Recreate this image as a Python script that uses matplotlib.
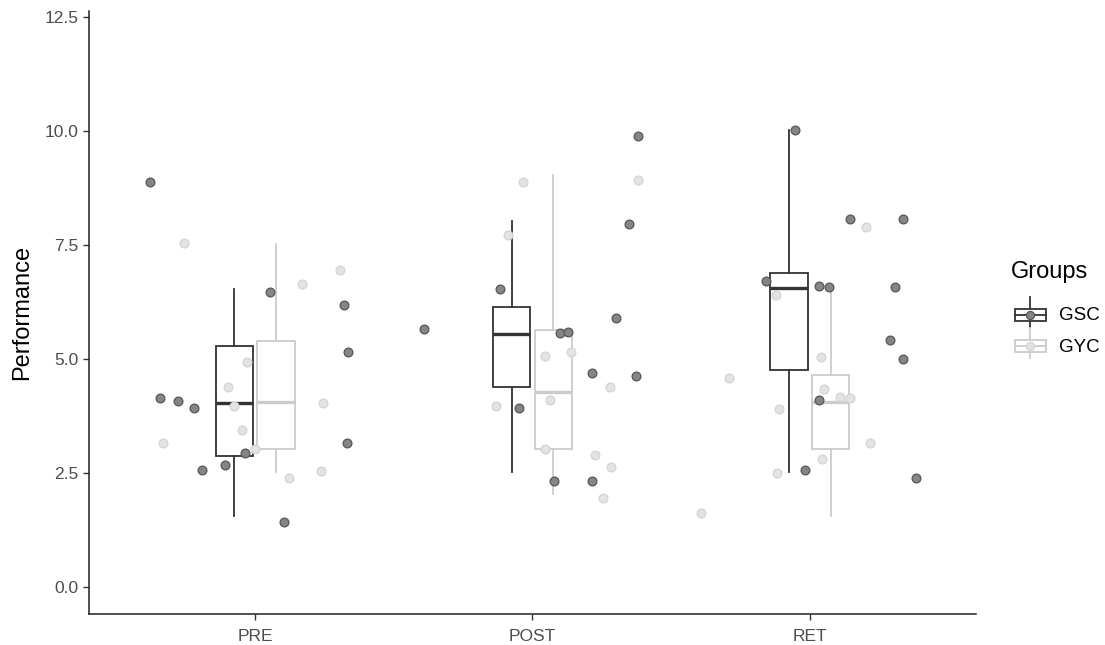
import numpy as np
import matplotlib
matplotlib.use("Agg")
import matplotlib.pyplot as plt
from matplotlib.patches import Rectangle
from matplotlib.lines import Line2D

plt.rcParams['font.family'] = ['Liberation Sans', 'DejaVu Sans']

phases = ['PRE', 'POST', 'RET']
groups = ['GSC', 'GYC']

# box summaries per phase: (lower whisker, Q1, median, Q3, upper whisker)
gsc_box = [(1.55, 2.88, 4.04, 5.29, 6.54),
           (2.53, 4.38, 5.54, 6.15, 8.03),
           (2.53, 4.76, 6.55, 6.88, 10.01)]
gyc_box = [(2.53, 3.03, 4.05, 5.39, 7.52),
           (2.04, 3.02, 4.28, 5.63, 9.04),
           (1.56, 3.02, 4.05, 4.66, 6.57)]

# individual scores (jittered) per phase
gsc_pre = [8.87, 4.14, 4.07, 3.93, 2.57, 2.68, 2.95, 6.46, 1.43, 6.18, 5.15, 3.16]
gsc_pre_jit = [-0.379, -0.344, -0.279, -0.221, -0.192, -0.111, -0.036, 0.052, 0.104, 0.319, 0.336, 0.331]
gsc_post = [9.90, 7.96, 6.54, 5.66, 5.91, 5.56, 5.59, 4.69, 4.62, 3.93, 2.33, 2.33]
gsc_post_jit = [0.382, 0.349, -0.117, -0.391, 0.302, 0.098, 0.129, 0.214, 0.372, -0.047, 0.079, 0.214]
gsc_ret = [10.01, 8.06, 8.06, 6.70, 6.61, 6.57, 6.57, 5.42, 5.01, 4.10, 2.57, 2.40]
gsc_ret_jit = [-0.053, 0.144, 0.337, -0.157, 0.034, 0.070, 0.308, 0.289, 0.337, 0.034, -0.018, 0.382]

gyc_pre = [7.54, 3.16, 4.93, 4.38, 3.98, 3.44, 3.03, 6.64, 6.95, 4.03, 2.54, 2.40]
gyc_pre_jit = [-0.257, -0.332, -0.030, -0.100, -0.076, -0.047, 0.0, 0.167, 0.307, 0.243, 0.237, 0.122]
gyc_post = [8.87, 8.93, 7.72, 5.07, 5.15, 4.39, 4.10, 3.97, 3.03, 2.89, 2.64, 1.95]
gyc_post_jit = [-0.035, 0.382, -0.088, 0.046, 0.138, 0.278, 0.064, -0.133, 0.046, 0.227, 0.284, 0.255]
gyc_ret = [7.89, 6.40, 5.04, 4.59, 4.35, 4.17, 4.14, 3.90, 3.16, 2.81, 2.51, 1.63]
gyc_ret_jit = [0.203, -0.123, 0.040, -0.291, 0.051, 0.111, 0.146, -0.110, 0.219, 0.046, -0.118, -0.391]

gsc_pts = [(gsc_pre, gsc_pre_jit), (gsc_post, gsc_post_jit), (gsc_ret, gsc_ret_jit)]
gyc_pts = [(gyc_pre, gyc_pre_jit), (gyc_post, gyc_post_jit), (gyc_ret, gyc_ret_jit)]

line_col = {'GSC': '#333333', 'GYC': '#cccccc'}
pt_face = {'GSC': '#858585', 'GYC': '#e3e3e3'}
pt_edge = {'GSC': '#575757', 'GYC': '#d4d4d4'}
dodge = {'GSC': -0.075, 'GYC': 0.075}

fig = plt.figure(figsize=(11.05, 6.45), dpi=100)
ax = fig.add_axes([0.0805, 0.048, 0.8028, 0.935])

x = np.arange(1, len(phases) + 1)

for g, boxes in zip(groups, [gsc_box, gyc_box]):
    stats = [dict(whislo=b[0], q1=b[1], med=b[2], q3=b[3], whishi=b[4], fliers=[])
             for b in boxes]
    ax.bxp(stats, positions=x + dodge[g], widths=0.135, showcaps=False,
           showfliers=False, patch_artist=True, manage_ticks=False,
           boxprops=dict(facecolor='white', edgecolor=line_col[g], linewidth=1.3),
           whiskerprops=dict(color=line_col[g], linewidth=1.3),
           medianprops=dict(color=line_col[g], linewidth=2.4))

for g, pts in zip(groups, [gsc_pts, gyc_pts]):
    for xi, (vals, jit) in zip(x, pts):
        ax.scatter(xi + np.array(jit), vals, s=40, facecolor=pt_face[g],
                   edgecolor=pt_edge[g], linewidth=0.9, zorder=3)

ax.set_xlim(0.4, 3.6)
ax.set_ylim(-0.59, 12.63)
ax.set_xticks(x)
ax.set_xticklabels(phases)
ax.set_yticks([0, 2.5, 5, 7.5, 10, 12.5])
ax.set_yticklabels(['0.0', '2.5', '5.0', '7.5', '10.0', '12.5'])
ax.tick_params(labelsize=12.5, colors='#4d4d4d', length=4, width=1)
ax.tick_params(axis='both', color='#333333')
ax.tick_params(axis='x', pad=7)
ax.set_ylabel('Performance', fontsize=17, labelpad=8)
for s in ['top', 'right']:
    ax.spines[s].set_visible(False)
for s in ['left', 'bottom']:
    ax.spines[s].set_linewidth(1.1)
    ax.spines[s].set_color('#222222')

# legend with box glyphs, laid out in figure pixels
lg = fig.add_axes([0, 0, 1, 1], facecolor='none')
lg.set_xlim(0, 1105)
lg.set_ylim(645, 0)
lg.axis('off')
lg.text(1011, 272, 'Groups', fontsize=17, va='center', ha='left')
for i, g in enumerate(groups):
    cy = 315 + i * 31
    cx = 1030
    c = line_col[g]
    lg.add_line(Line2D([cx, cx], [cy - 18, cy + 12], color=c, lw=1.3))
    lg.add_patch(Rectangle((cx - 15.5, cy - 6), 31, 12, facecolor='white', edgecolor=c, lw=1.3, zorder=2))
    lg.add_line(Line2D([cx - 15.5, cx + 15.5], [cy, cy], color=c, lw=1.3, zorder=3))
    lg.scatter([cx], [cy], s=34, facecolor=pt_face[g], edgecolor=pt_edge[g], lw=0.9, zorder=4)
    lg.text(1059, cy + 1, g, fontsize=13.5, va='center', ha='left')

fig.savefig('out.png', dpi=100)
